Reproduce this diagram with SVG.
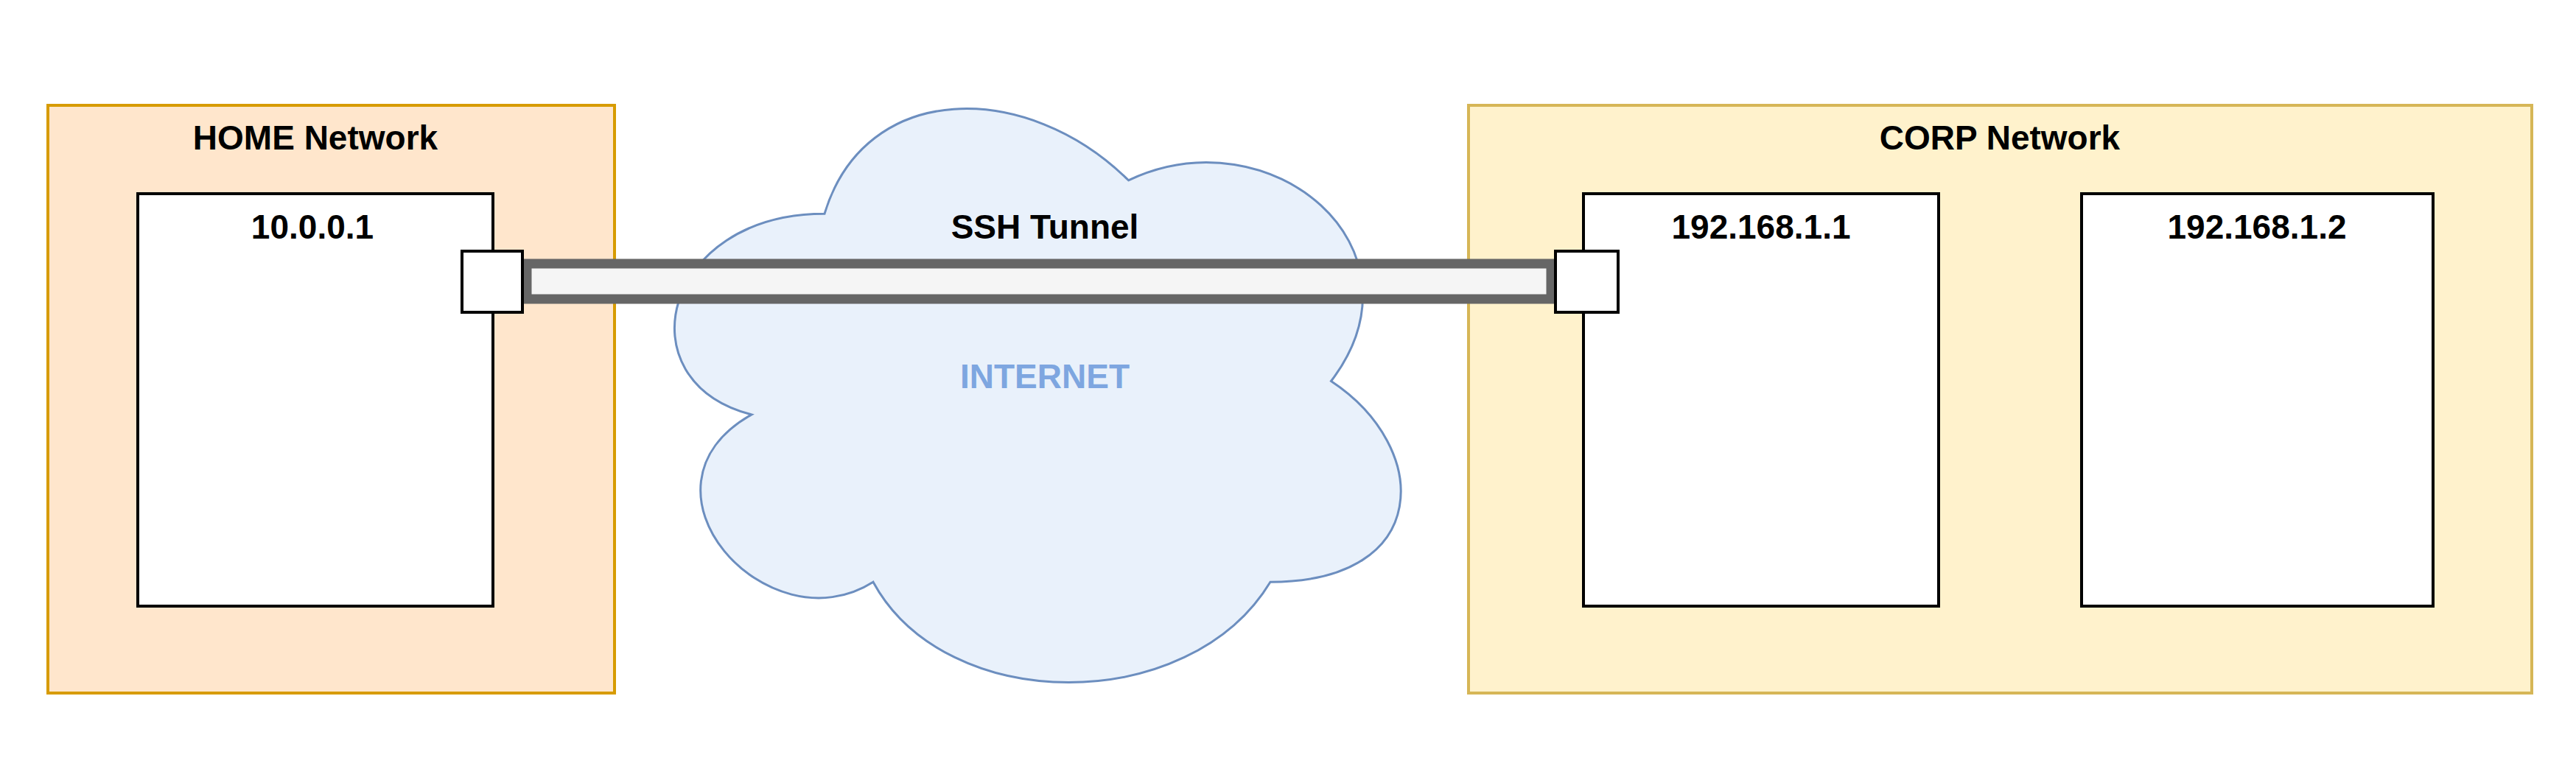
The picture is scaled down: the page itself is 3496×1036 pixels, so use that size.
<svg xmlns="http://www.w3.org/2000/svg" width="3496" height="1036" viewBox="0 0 3496 1036">
<style>
text{font-family:"Liberation Sans",Arial,sans-serif;font-weight:bold;font-size:46px;text-anchor:middle}
.box{fill:#fff;stroke:#000;stroke-width:4}
</style>
<rect width="3496" height="1036" fill="#fff"/>
<g id="home"><rect x="65" y="143" width="769" height="798" fill="#ffe6cc" stroke="#d79b00" stroke-width="4"/><text x="428" y="203">HOME Network</text></g>
<g id="corp"><rect x="1993" y="143" width="1443" height="798" fill="#fff2cc" stroke="#d6b656" stroke-width="4"/><text x="2714" y="203">CORP Network</text></g>
<g id="internet"><path transform="translate(844,63) scale(11.0,9.09)" vector-effect="non-scaling-stroke" d="M25,25 C5,25 0,50 16,55 C0,66 18,90 31,80 C40,100 70,100 80,80 C100,80 100,60 87.5,50 C100,30 80,10 62.5,20 C50,5 30,5 25,25 Z" fill="#e9f1fb" stroke="#6c8ebf" stroke-width="3"/><text x="1418" y="527" fill="#7ea6e0">INTERNET</text></g>
<g id="h1"><rect class="box" x="187" y="263" width="482" height="560"/><text x="424" y="324">10.0.0.1</text></g>
<g id="c1"><rect class="box" x="2149" y="263" width="482" height="560"/><text x="2390" y="324">192.168.1.1</text></g>
<g id="c2"><rect class="box" x="2825" y="263" width="477" height="560"/><text x="3063" y="324">192.168.1.2</text></g>
<g id="connectors"><rect x="715" y="358" width="1390" height="48" fill="#f5f5f5" stroke="#666" stroke-width="13"/><text x="1418" y="324">SSH Tunnel</text></g>
<g id="p1"><rect class="box" x="627" y="341" width="82" height="83"/></g>
<g id="p2"><rect class="box" x="2111" y="341" width="85" height="83"/></g>
</svg>
